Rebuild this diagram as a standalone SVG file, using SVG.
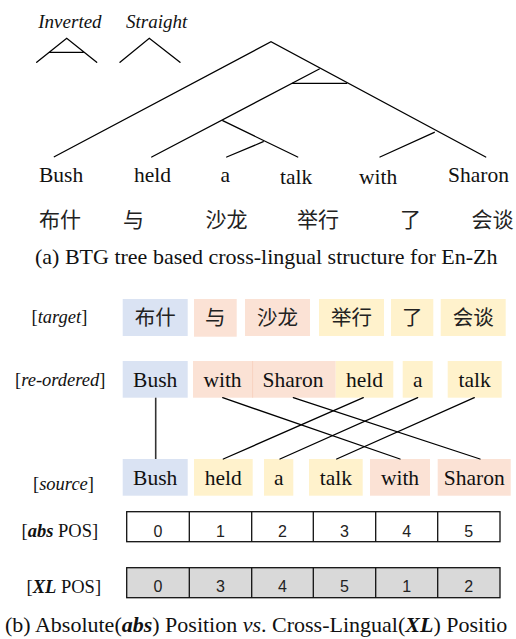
<svg xmlns="http://www.w3.org/2000/svg" width="516" height="639" viewBox="0 0 516 639">
  <style>
    .ln { stroke: #000; stroke-width: 1.3; fill: none; stroke-linecap: round; }
    .w { font-family: 'Liberation Serif', 'Times New Roman', serif; font-size: 21.5px; fill: #111; }
    .zh { font-family: 'Noto Sans CJK SC', sans-serif; font-size: 20.5px; fill: #222; }
    .lbl { font-family: 'Liberation Serif', 'Times New Roman', serif; font-size: 18.5px; fill: #111; }
    .cap { font-family: 'Liberation Serif', 'Times New Roman', serif; font-size: 22px; fill: #111; }
    .leg { font-family: 'Liberation Serif', 'Times New Roman', serif; font-size: 19px; font-style: italic; fill: #111; }
    .it { font-style: italic; }
    .bi { font-style: italic; font-weight: bold; }
    .blue { fill: #dae3f3; }
    .pink { fill: #fbe2d5; }
    .yel { fill: #fff2cc; }
    .cell { stroke: #111; stroke-width: 1.3; }
    .num { font-family: 'Liberation Sans', Arial, sans-serif; font-size: 16px; fill: #222; text-anchor: middle; }
  </style>

  <!-- legend: inverted and straight node shapes -->
  <g id="legend">
    <text class="leg" x="38.3" y="28">Inverted</text>
    <text class="leg" x="126" y="28">Straight</text>
    <path class="ln" d="M36.7,62.3 L66.7,38.3 L96.7,62.3 M50,52.3 H83.3"/>
    <path class="ln" d="M120,62.3 L149.3,38.3 L180,62.3"/>
  </g>

  <!-- BTG tree -->
  <g id="tree">
    <path class="ln" d="M54.3,156.7 L271,41.7 L485.7,157"/>
    <path class="ln" d="M151.7,157 L319.3,69"/>
    <path class="ln" d="M292.3,83.3 H346.7"/>
    <path class="ln" d="M222.7,120.7 L297.7,157"/>
    <path class="ln" d="M263.3,141.7 L226.7,157"/>
    <path class="ln" d="M434.3,132.3 L380,157"/>
  </g>

  <!-- English leaves -->
  <g id="en-words">
    <text class="w" x="39" y="181.7">Bush</text>
    <text class="w" x="134" y="181.7">held</text>
    <text class="w" x="220.5" y="181.7">a</text>
    <text class="w" x="280" y="184">talk</text>
    <text class="w" x="359" y="184">with</text>
    <text class="w" x="448" y="181.7">Sharon</text>
  </g>

  <!-- Chinese words -->
  <g id="zh-words">
    <text class="zh" x="39" y="227" style="font-size:21px">布什</text>
    <text class="zh" x="123" y="227" style="font-size:21px">与</text>
    <text class="zh" x="205.5" y="227" style="font-size:21px">沙龙</text>
    <text class="zh" x="297" y="227" style="font-size:21px">举行</text>
    <text class="zh" x="400" y="227" style="font-size:21px">了</text>
    <text class="zh" x="471.5" y="227" style="font-size:21px">会谈</text>
  </g>

  <text id="caption-a" class="cap" x="35" y="264">(a) BTG tree based cross-lingual structure for En-Zh</text>

  <!-- row labels -->
  <g id="row-labels">
    <text class="lbl" x="31.5" y="323">[<tspan class="it">target</tspan>]</text>
    <text class="lbl" x="15" y="385.7">[<tspan class="it">re-ordered</tspan>]</text>
    <text class="lbl" x="33" y="490">[<tspan class="it">source</tspan>]</text>
  </g>

  <!-- target row -->
  <g id="target">
    <rect class="blue" x="122.7" y="299" width="65" height="37"/>
    <rect class="pink" x="194" y="299" width="42.7" height="37.7"/>
    <rect class="pink" x="245" y="299" width="65" height="37"/>
    <rect class="yel" x="319" y="299" width="65" height="37"/>
    <rect class="yel" x="391" y="299" width="42.3" height="37"/>
    <rect class="yel" x="440.7" y="299" width="65" height="37"/>
    <text class="zh" x="155.2" y="324.5" text-anchor="middle">布什</text>
    <text class="zh" x="215.3" y="324.5" text-anchor="middle">与</text>
    <text class="zh" x="277.5" y="324.5" text-anchor="middle">沙龙</text>
    <text class="zh" x="351.5" y="324.5" text-anchor="middle">举行</text>
    <text class="zh" x="412.2" y="324.5" text-anchor="middle">了</text>
    <text class="zh" x="473.2" y="324.5" text-anchor="middle">会谈</text>
  </g>

  <!-- re-ordered row -->
  <g id="reordered">
    <rect class="blue" x="122.7" y="361" width="65" height="36.7"/>
    <rect class="pink" x="193" y="361" width="59.3" height="36.7"/>
    <rect class="pink" x="252.3" y="361" width="83.4" height="36.7"/>
    <line x1="252.6" y1="361" x2="252.6" y2="397.7" stroke="#f6cdb6" stroke-width="0.8"/>
    <rect class="yel" x="335.7" y="361" width="57.6" height="36.7"/>
    <rect class="yel" x="402.7" y="361" width="30" height="36.7"/>
    <rect class="yel" x="447.7" y="361" width="54" height="36.7"/>
    <text class="w" x="155.2" y="386.7" text-anchor="middle">Bush</text>
    <text class="w" x="222.5" y="386.7" text-anchor="middle">with</text>
    <text class="w" x="293" y="386.7" text-anchor="middle">Sharon</text>
    <text class="w" x="364.5" y="386.7" text-anchor="middle">held</text>
    <text class="w" x="417.7" y="386.7" text-anchor="middle">a</text>
    <text class="w" x="474.7" y="386.7" text-anchor="middle">talk</text>
  </g>

  <!-- source row -->
  <g id="source">
    <rect class="blue" x="122.7" y="459" width="65" height="36.7"/>
    <rect class="yel" x="194" y="459" width="58.7" height="36.7"/>
    <rect class="yel" x="264" y="459" width="29.3" height="36.7"/>
    <rect class="yel" x="309" y="459" width="53.7" height="36.7"/>
    <rect class="pink" x="370" y="459" width="60" height="36.7"/>
    <rect class="pink" x="437.7" y="459" width="73" height="36.7"/>
    <text class="w" x="155.2" y="485" text-anchor="middle">Bush</text>
    <text class="w" x="223.3" y="485" text-anchor="middle">held</text>
    <text class="w" x="278.7" y="485" text-anchor="middle">a</text>
    <text class="w" x="335.8" y="485" text-anchor="middle">talk</text>
    <text class="w" x="400" y="485" text-anchor="middle">with</text>
    <text class="w" x="474.2" y="485" text-anchor="middle">Sharon</text>
  </g>

  <!-- alignment links between re-ordered and source rows -->
  <g id="connectors">
    <line x1="155.7" y1="397.7" x2="155.7" y2="459" stroke="#333" stroke-width="1.6"/>
    <line class="ln" x1="222.7" y1="397.7" x2="400" y2="459"/>
    <line class="ln" x1="293.3" y1="397.7" x2="480" y2="459"/>
    <line class="ln" x1="363.3" y1="397.7" x2="223.3" y2="459"/>
    <line class="ln" x1="417.7" y1="397.7" x2="280" y2="459"/>
    <line class="ln" x1="474.3" y1="397.7" x2="336.7" y2="459"/>
  </g>

  <!-- position tables -->
  <g id="abs-pos">
    <text class="lbl" x="21.5" y="536.5">[<tspan class="bi">abs</tspan> POS]</text>
    <rect x="126.7" y="511.7" width="373.3" height="30" fill="#fff" class="cell"/>
    <path class="cell" d="M189.3,511.7 V541.7 M251.7,511.7 V541.7 M313.3,511.7 V541.7 M375.7,511.7 V541.7 M437.7,511.7 V541.7"/>
    <text class="num" x="158" y="536.5">0</text>
    <text class="num" x="220.5" y="536.5">1</text>
    <text class="num" x="282.5" y="536.5">2</text>
    <text class="num" x="344.5" y="536.5">3</text>
    <text class="num" x="406.7" y="536.5">4</text>
    <text class="num" x="468.8" y="536.5">5</text>
  </g>

  <g id="xl-pos">
    <text class="lbl" x="26.5" y="592.5">[<tspan class="bi">XL</tspan> POS]</text>
    <rect x="126.7" y="567.7" width="373.3" height="30" fill="#d9d9d9" class="cell"/>
    <path class="cell" d="M189.3,567.7 V597.7 M251.7,567.7 V597.7 M313.3,567.7 V597.7 M375.7,567.7 V597.7 M437.7,567.7 V597.7"/>
    <text class="num" x="158" y="592">0</text>
    <text class="num" x="220.5" y="592">3</text>
    <text class="num" x="282.5" y="592">4</text>
    <text class="num" x="344.5" y="592">5</text>
    <text class="num" x="406.7" y="592">1</text>
    <text class="num" x="468.8" y="592">2</text>
  </g>

  <text id="caption-b" class="cap" x="5" y="632">(b) Absolute(<tspan class="bi">abs</tspan>) Position <tspan class="it">vs</tspan>. Cross-Lingual(<tspan class="bi">XL</tspan>) Positio</text>
</svg>
